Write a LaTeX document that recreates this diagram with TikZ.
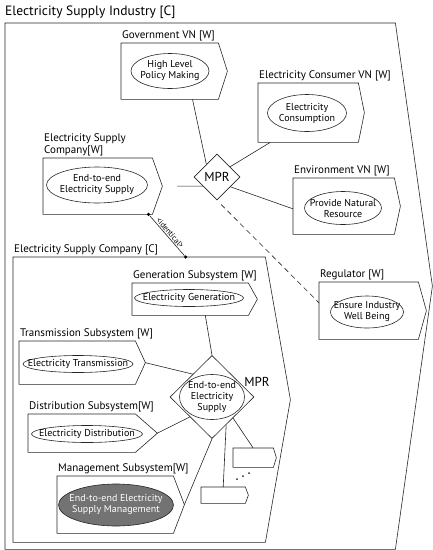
\documentclass[tikz,border=0pt]{standalone}
\usepackage{fontspec}
\setmainfont{PT Sans}
\usetikzlibrary{
    shapes.geometric,   % diamond for the relation nodes
    positioning         % labels sitting on top of the boxes
}
\newcommand{\labelsize}{\fontsize{11}{11.5}\selectfont}
\newcommand{\actsize}{\fontsize{10}{11}\selectfont}
\tikzset{
    box body/.style={inner sep=0pt},
    box line/.style={draw=black!85, line width=0.6pt},
    box label/.style={inner sep=1pt, font=\labelsize, align=left},
    act line/.style={draw=black!85, line width=0.6pt},
    act text/.style={inner sep=0pt, font=\actsize, align=center},
    relation/.style={diamond, draw=black!85, line width=0.6pt, inner sep=0pt,
        font=\fontsize{13}{14}\selectfont},
    link/.style={draw=black!85, line width=0.6pt},
    loose link/.style={link, dash pattern=on 5pt off 4pt},
    end dot/.style={circle, fill=black, inner sep=0pt, minimum size=3.5pt}
}
% box with a pointed right side: name, left, top, right, bottom, tip length
\newcommand{\tipbox}[6]{%
    \node[box body, anchor=north west, minimum width=#4pt-#2pt,
        minimum height=#5pt-#3pt] (#1) at (#2,#3) {};
    \draw[box line] (#1.north west) -- (#1.north east)
        -- ([xshift=#6pt]#1.east) coordinate (#1-tip)
        -- (#1.south east) -- (#1.south west) -- cycle;
}
% activity ellipse: [options] name, x, y, width, height, text
\newcommand{\activity}[7][]{%
    \draw[act line, #1] (#3,#4) ellipse [x radius=#5pt/2, y radius=#6pt/2];
    \node[act text] (#2) at (#3,#4) {#7};
}

\begin{document}
\begin{tikzpicture}[x=1pt, y=-1pt, cap=round]
    \useasboundingbox (0,0) rectangle (433,550);

    % the industry as a whole
    \node[box label, anchor=west, font=\fontsize{13.5}{15}\selectfont] (industry-label)
        at (4,12) {Electricity Supply Industry [C]};
    \tipbox{industry}{5}{23}{395}{549}{37}

    % value networks around the industry MPR
    \tipbox{gov}{121}{43}{218}{99}{9}
    \node[box label, above right=1pt and 0pt of gov.north west] (gov-label) {Government VN [W]};
    \activity{policy}{170}{71}{78}{35}{High Level\\Policy Making}

    \tipbox{cons}{258}{83}{358}{142}{6}
    \node[box label, above right=1pt and 0pt of cons.north west] (cons-label) {Electricity Consumer VN [W]};
    \activity{consumption}{307}{113}{79}{37}{Electricity\\Consumption}

    \tipbox{esc}{43}{158}{152}{214}{10}
    \node[box label, above right=1pt and 0pt of esc.north west] (esc-label) {Electricity Supply\\Company[W]};
    \activity{supply}{97}{185}{101}{36}{End-to-end\\Electricity Supply}

    \tipbox{env}{293}{178}{394}{234}{6}
    \node[box label, above right=1pt and 0pt of env.north west] (env-label) {Environment VN [W]};
    \activity{resource}{343}{208}{77}{33}{Provide Natural\\Resource}

    \tipbox{reg}{319}{282}{418}{339}{8}
    \node[box label, above right=1pt and 0pt of reg.north west] (reg-label) {Regulator [W]};
    \activity{wellbeing}{367}{312}{73}{32}{Ensure Industry\\Well Being}

    \node[relation, minimum width=46pt, minimum height=46pt] (mpr) at (217,177) {MPR};

    \draw[link] (gov.-51) -- (mpr.130);
    \draw[link] (cons.218) -- (mpr.38);
    \draw[link, shorten <=15pt] (esc-tip) -- (mpr.213);
    \draw[link] (mpr.-36) -- (env.183);
    \draw[loose link, shorten <=6pt] (mpr.south) -- (reg.171);

    % the supply company opened up
    \tipbox{company}{13}{257}{265}{542}{25}
    \node[box label, above right=1pt and 0pt of company.north west] (company-label) {Electricity Supply Company [C]};

    \node[end dot] (same-a) at (esc.-29) {};
    \node[end dot] (same-b) at (company.72.5) {};
    \draw[link] (same-a) -- node[sloped, above, inner sep=1pt, font=\fontsize{8}{9}\selectfont] {<identical>} (same-b);

    \tipbox{gen}{132}{283}{248}{315}{9}
    \node[box label, above right=1pt and 0pt of gen.north west] (gen-label) {Generation Subsystem [W]};
    \activity{generation}{189}{298}{109}{17}{Electricity Generation}

    \tipbox{trans}{19}{341}{135}{384}{10}
    \node[box label, above right=1pt and 0pt of trans.north west] (trans-label) {Transmission Subsystem [W]};
    \activity{transmission}{78}{364}{110}{17}{Electricity Transmission}

    \tipbox{dist}{28}{414}{135}{452}{22}
    \node[box label, above right=1pt and 0pt of dist.north west] (dist-label) {Distribution Subsystem[W]};
    \activity{distribution}{87}{434}{111}{17}{Electricity Distribution}

    \tipbox{mgmt}{57}{476}{173}{533}{11}
    \node[box label, above right=1pt and 0pt of mgmt.north west] (mgmt-label) {Management Subsystem[W]};
    \activity[fill=black!55]{management}{116}{505}{115}{42}{\textcolor{white}{End-to-end Electricity}\\\textcolor{white}{Supply Management}}

    \node[relation, minimum width=84pt, minimum height=83pt] (inner-mpr) at (212,397) {};
    \activity{e2e}{212}{397}{65}{45}{End-to-end\\Electricity\\Supply}
    \node[font=\fontsize{13}{14}\selectfont, inner sep=0pt] (inner-mpr-label) at (257,382) {MPR};

    \tipbox{more1}{233}{448}{273}{467}{3}
    \tipbox{more2}{201}{487}{245}{503}{3}
    % further subsystems left out
    \foreach \i in {0,1,2}
        \fill[black!85] (237+6*\i,479-3*\i) circle (1pt);

    \draw[link] (gen.-47) -- (inner-mpr.north);
    \draw[link] (trans-tip) -- (inner-mpr.130);
    \draw[link] (dist-tip) -- (inner-mpr.222);
    \draw[link] (mgmt-tip) -- (inner-mpr.south);
    \draw[link] (inner-mpr.-63) -- (more2.north);
    \draw[link] (inner-mpr.-45) -- (more1.north);
\end{tikzpicture}
\end{document}
